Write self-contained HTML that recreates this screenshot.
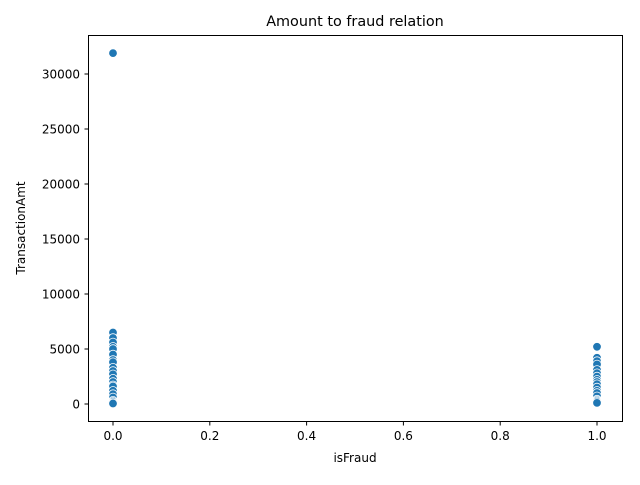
<!DOCTYPE html>
<html><head><meta charset="utf-8"><style>
body{margin:0;background:#fff;}
text{font-family:"DejaVu Sans","Liberation Sans",sans-serif;}
</style></head><body>
<svg id="chart" width="640" height="480" xmlns="http://www.w3.org/2000/svg">
<text x="355" y="26" font-size="14.4" text-anchor="middle">Amount to fraud relation</text>
<g id="xticks"></g><g id="yticks"></g><g id="points"></g>
<rect x="88.5" y="35.5" width="534" height="386" fill="none" stroke="#000" stroke-width="1"/>
<text x="355" y="462" font-size="12" text-anchor="middle">isFraud</text>
<text transform="translate(25,228) rotate(-90)" font-size="12" text-anchor="middle">TransactionAmt</text>
</svg>
<script>
const fraudClasses = [0, 1];
const amountsClass0 = [31900, 6500, 6000, 5600, 5200, 5000, 4500, 4000, 3800, 3300, 3000, 2700, 2300, 2000, 1700, 1600, 1200, 900, 600, 300, 200, 100, 50];
const amountsClass1 = [5200, 4200, 3900, 3600, 3100, 2800, 2500, 2200, 2000, 1800, 1500, 1200, 1000, 700, 400, 300, 200, 100];
const xTickLabels = ["0.0", "0.2", "0.4", "0.6", "0.8", "1.0"];
const yTickLabels = ["0", "5000", "10000", "15000", "20000", "25000", "30000"];
const NS = "http://www.w3.org/2000/svg";
function xs(v){return 113 + v * 484;}
function ys(v){return 404 - v * 0.011;}
function mk(tag, attrs, parent){const e=document.createElementNS(NS,tag);for(const k in attrs)e.setAttribute(k,attrs[k]);parent.appendChild(e);return e;}
const xg=document.getElementById('xticks'), yg=document.getElementById('yticks'), pg=document.getElementById('points');
xTickLabels.forEach(l=>{
  const x=xs(parseFloat(l));
  const t=mk('line',{x1:x,x2:x,y1:422,y2:425.5,stroke:'#000'},xg);
  
  
  const tx=mk('text',{x:x,y:440,'font-size':12,'text-anchor':'middle'},xg);
  tx.textContent=l;
  
  
});
yTickLabels.forEach(l=>{
  const y=ys(parseFloat(l));
  const t=mk('line',{x1:84.5,x2:88,y1:y,y2:y,stroke:'#000'},yg);
  
  
  const tx=mk('text',{x:80,y:y+4.5,'font-size':12,'text-anchor':'end'},yg);
  tx.textContent=l;
  
  
});
[amountsClass0, amountsClass1].forEach((arr,i)=>{
  arr.forEach(v=>{
    const c=mk('circle',{cx:xs(fraudClasses[i]),cy:ys(v),r:4.3,fill:'#1f77b4',stroke:'#fff','stroke-width':0.8},pg);
    
    
  });
});
</script>
</body></html>
